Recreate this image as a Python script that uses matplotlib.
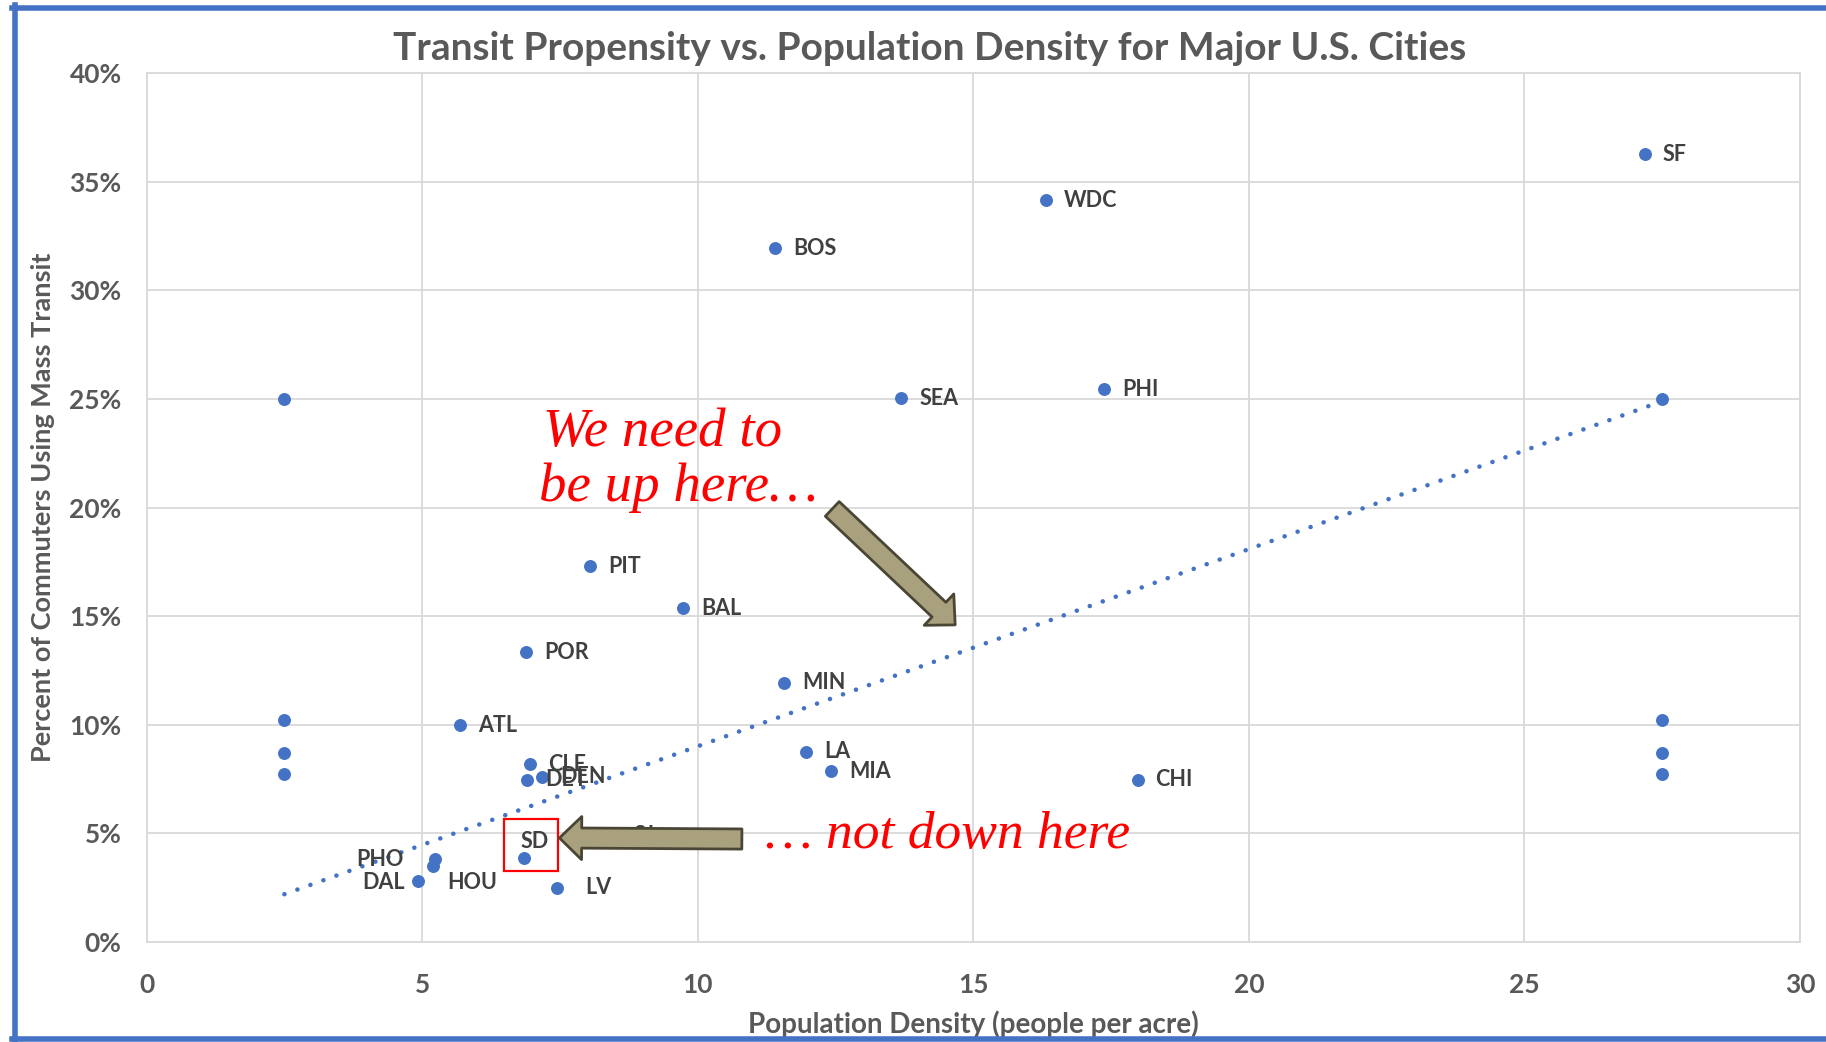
import numpy as np
import matplotlib
matplotlib.use('Agg')
import matplotlib.pyplot as plt
from matplotlib.ticker import PercentFormatter, MultipleLocator
from matplotlib.patches import Rectangle
from matplotlib.lines import Line2D

# city data: population density (people / acre), share of commuters on transit
cities = ["SF", "WDC", "BOS", "SEA", "PHI", "PIT", "BAL", "POR", "MIN", "ATL",
          "LA", "MIA", "CHI", "CLE", "DET", "DEN", "PHO", "HOU", "DAL", "SD", "LV", "SJ"]
density = [27.18, 16.32, 11.41, 13.69, 17.37, 8.05, 9.74, 6.89, 11.57, 5.69,
           11.97, 12.42, 17.98, 6.96, 6.90, 7.18, 5.23, 5.20, 4.92, 6.85, 7.45, 8.50]
transit = [0.3626, 0.3415, 0.3195, 0.2503, 0.2546, 0.1731, 0.1536, 0.1334, 0.1194, 0.0997,
           0.0875, 0.0787, 0.0746, 0.0818, 0.0746, 0.0761, 0.0382, 0.0350, 0.0282, 0.0388, 0.0250, 0.0490]

# unlabeled points at the edges
extra_x = [2.5, 2.5, 2.5, 2.5, 27.5, 27.5, 27.5, 27.5]
extra_y = [0.25, 0.1022, 0.0869, 0.0773, 0.25, 0.1022, 0.0869, 0.0773]

# trendline end points
trend_x = [2.5, 27.5]
trend_y = [0.022, 0.249]

# label offsets in pixels (dx, dy), default right of the point
offsets = {"PHO": (-31, 0, "right"), "DAL": (-13, -2, "right"), "HOU": (14, -17, "left"),
           "SD": (10, 16, "center"), "LV": (28, 0, "left")}

blue = "#4472C4"
label_c = "#404040"
grey = "#595959"

fig = plt.figure(figsize=(18.26, 10.42), dpi=100)
ax = fig.add_axes([0.0803, 0.096, 0.9055, 0.8337])

ax.plot(trend_x, trend_y, color=blue, lw=3.3, linestyle=(0, (0.01, 3.0)),
        dash_capstyle='round', zorder=2)
ax.plot(density, transit, 'o', color=blue, ms=8.3, zorder=3)
ax.plot(extra_x, extra_y, 'o', color=blue, ms=8.3, zorder=3)

for name, x, y in zip(cities, density, transit):
    dx, dy, ha = offsets.get(name, (18, 0, "left"))
    ax.annotate(name, (x, y), xytext=(dx * 0.72, dy * 0.72), textcoords='offset points',
                ha=ha, va='center', fontsize=15.5, fontweight='bold', color=label_c,
                family='Lato', zorder=4)

ax.set_xlim(0, 30)
ax.set_ylim(0, 0.40)
ax.xaxis.set_major_locator(MultipleLocator(5))
ax.yaxis.set_major_locator(MultipleLocator(0.05))
ax.yaxis.set_major_formatter(PercentFormatter(1.0, decimals=0))
ax.grid(True, color="#D9D9D9", lw=1.3, zorder=0)
ax.set_axisbelow(True)
for s in ax.spines.values():
    s.set_color("#D9D9D9")
    s.set_linewidth(1.3)
ax.tick_params(axis='y', length=0, pad=18, labelsize=19, labelcolor=grey)
ax.tick_params(axis='x', length=0, pad=22, labelsize=19, labelcolor=grey)
for t in ax.get_xticklabels() + ax.get_yticklabels():
    t.set_fontweight('bold')
    t.set_family('Lato')

fig.text(0.509, 1 - 49 / 1042, "Transit Propensity vs. Population Density for Major U.S. Cities",
         fontsize=28, fontweight='bold', color=grey, family='Lato', ha='center', va='center')
ax.set_xlabel("Population Density (people per acre)", fontsize=20, fontweight='bold',
              color=grey, family='Lato', labelpad=10)
ax.set_ylabel("Percent of Commuters Using Mass Transit", fontsize=19.5, fontweight='bold',
              color=grey, family='Lato', labelpad=10)

# red box around SD
ax.add_patch(Rectangle((6.49, 0.0327), 0.97, 0.0238, fill=False, ec="red", lw=1.6, zorder=5))

# arrows
arrow_fc = "#A9A17E"
arrow_ec = "#4A4636"
aprops = dict(arrowstyle='simple,head_length=1.6,head_width=3.1,tail_width=1.45',
              mutation_scale=10, fc=arrow_fc, ec=arrow_ec, lw=2, shrinkA=0, shrinkB=0)
ax.annotate("", xy=(14.67, 0.146), xytext=(12.44, 0.1994), arrowprops=aprops, zorder=6)
ax.annotate("", xy=(7.49, 0.0479), xytext=(10.8, 0.0474), arrowprops=aprops, zorder=6)

serif = dict(family='Liberation Serif', style='italic', color='red',
             va='baseline', ha='left', zorder=7)
ax.text(7.19, 0.2284, "We need to", fontsize=39.5, **serif)
ax.text(7.12, 0.2030, "be up here…", fontsize=39.5, **serif)
ax.text(11.22, 0.0433, "… not down here", fontsize=38.5, **serif)

# blue frame around the whole chart
fig.add_artist(Line2D([14.5 / 1826, 14.5 / 1826], [0.0, 1 - 5 / 1042], transform=fig.transFigure,
                      color=blue, lw=4))
fig.add_artist(Line2D([12 / 1826, 1.0], [1 - 7.5 / 1042, 1 - 7.5 / 1042], transform=fig.transFigure,
                      color=blue, lw=4))
fig.add_artist(Line2D([12 / 1826, 1.0], [3 / 1042, 3 / 1042], transform=fig.transFigure,
                      color=blue, lw=4))

fig.savefig("out.png", dpi=100)
